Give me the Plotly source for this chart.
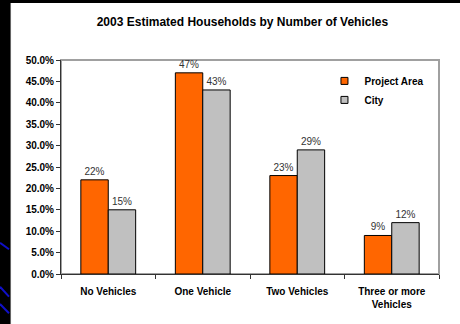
import plotly.graph_objects as go

# Households by number of vehicles, 2003 estimates
categories = ["No Vehicles", "One Vehicle", "Two Vehicles", "Three or more<br>Vehicles"]
project_area = [0.22, 0.47, 0.23, 0.09]
city = [0.15, 0.43, 0.29, 0.12]
series_names = ["Project Area", "City"]
series_colors = ["#FF6600", "#C0C0C0"]
y_ticks = [0.0, 0.05, 0.10, 0.15, 0.20, 0.25, 0.30, 0.35, 0.40, 0.45, 0.50]

FONT = "Arial, 'Liberation Sans', sans-serif"

fig = go.Figure()

for name, vals, color in zip(series_names, [project_area, city], series_colors):
    fig.add_trace(go.Bar(
        x=categories,
        y=vals,
        name=name,
        marker=dict(color=color, line=dict(color="#000000", width=1)),
        texttemplate="%{y:.0%}",
        textposition="outside",
        textfont=dict(family=FONT, size=10, color="#333333"),
        cliponaxis=False,
        showlegend=False,
    ))
    # small square legend key
    fig.add_trace(go.Scatter(
        x=[None], y=[None], mode="markers", name=name,
        marker=dict(symbol="square", size=7, color=color,
                    line=dict(color="#000000", width=1)),
        showlegend=True,
    ))

shapes = [
    # plot frame (top/right in grey)
    dict(type="rect", xref="paper", yref="paper", x0=0, x1=1, y0=0, y1=1,
         line=dict(color="#A0A0A0", width=2), layer="below"),
    # dark slide edges
    dict(type="rect", xref="paper", yref="paper", x0=-0.17, x1=-0.1349,
         y0=-0.24, y1=1.29, fillcolor="#000000", line=dict(width=0), layer="below"),
    dict(type="rect", xref="paper", yref="paper", x0=-0.17, x1=1.06,
         y0=1.2664, y1=1.29, fillcolor="#000000", line=dict(width=0), layer="below"),
    dict(type="line", xref="paper", yref="paper", x0=-0.1335, x1=-0.1335,
         y0=-0.24, y1=1.2664, line=dict(color="#606060", width=1)),
]
# blue diagonal strokes on the dark edge
for (ya, yb) in [(242.7, 249.3), (286.7, 296.7), (304.0, 313.3)]:
    shapes.append(dict(type="line", xref="paper", yref="paper",
                       x0=-61 / 378, x1=-52 / 378,
                       y0=(274 - ya) / 214, y1=(274 - yb) / 214,
                       line=dict(color="#1010C8", width=2)))

fig.update_layout(
    width=460, height=324,
    margin=dict(l=61, r=21, t=60, b=50),
    paper_bgcolor="#FFFFFF",
    plot_bgcolor="#FFFFFF",
    barmode="group",
    bargap=0.42,
    bargroupgap=0,
    uniformtext=dict(minsize=10),
    title=dict(text="2003 Estimated Households by Number of Vehicles",
               x=0.527, xanchor="center", y=0.933, yanchor="middle",
               font=dict(family=FONT, size=12, color="#000000", weight="bold")),
    font=dict(family=FONT, size=10, color="#000000"),
    legend=dict(x=0.697, y=0.97, xanchor="left", yanchor="top",
                bgcolor="rgba(0,0,0,0)", itemwidth=30, tracegroupgap=4,
                font=dict(family=FONT, size=10, color="#000000", weight="bold"),
                itemclick=False),
    shapes=shapes,
    showlegend=True,
)

fig.update_xaxes(
    showline=True, linecolor="#333333", linewidth=1,
    ticks="outside", ticklen=4, tickcolor="#333333", tickson="boundaries",
    tickfont=dict(family=FONT, size=10, color="#000000", weight="bold"),
    ticklabelstandoff=8,
    showgrid=False, zeroline=False,
)
fig.update_yaxes(
    range=[0, 0.5], tickvals=y_ticks, tickformat=".1%",
    showline=True, linecolor="#333333", linewidth=1,
    ticks="outside", ticklen=4, tickcolor="#333333",
    tickfont=dict(family=FONT, size=10, color="#000000", weight="bold"),
    showgrid=False, zeroline=False,
)

fig.write_html("out.html")
